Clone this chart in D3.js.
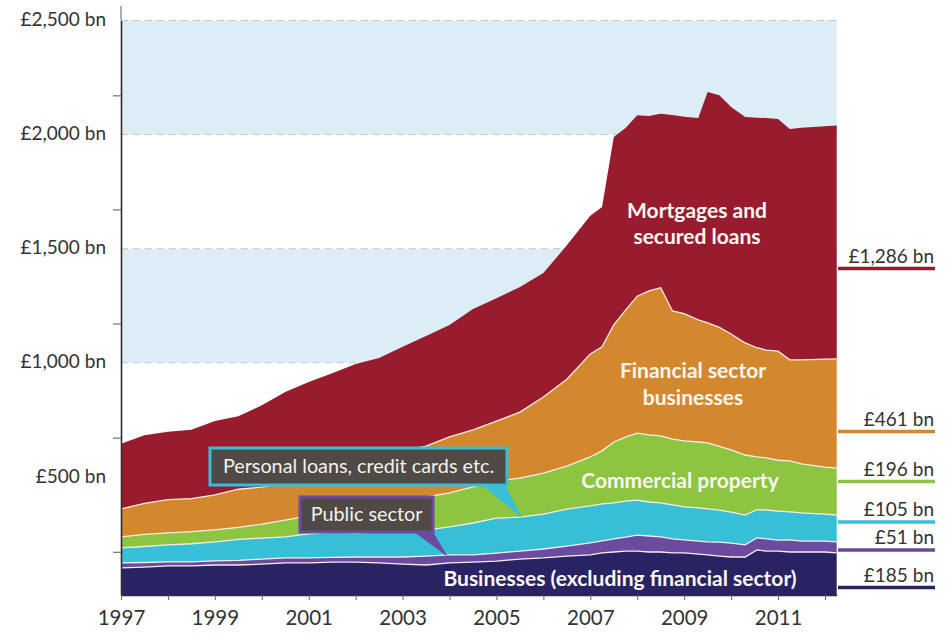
<!DOCTYPE html>
<html>
<head>
<meta charset="utf-8">
<script src="https://cdn.jsdelivr.net/npm/d3@7"></script>
<style>
  body { margin: 0; background: #fff; }
  svg { display: block; font-family: Lato, "Open Sans", sans-serif; }
</style>
</head>
<body>
<svg width="947" height="636"></svg>
<script>
// sample dates (decimal years)
const years = [1997, 1997.5, 1998, 1998.5, 1999, 1999.5, 2000, 2000.5, 2001, 2001.5,
  2002, 2002.5, 2003, 2003.5, 2004, 2004.5, 2005, 2005.5, 2006, 2006.5, 2007,
  2007.25, 2007.5, 2007.75, 2008, 2008.25, 2008.5, 2008.75, 2009,
  2009.3, 2009.5, 2009.75, 2010, 2010.3, 2010.55, 2010.75, 2011,
  2011.25, 2011.5, 2012, 2012.25];

// £bn per sector, bottom to top
const businesses = [101, 105, 110, 110, 114, 114, 118, 123, 123, 127, 127, 123, 118, 114, 123, 127, 131, 140, 145, 153, 158,
  167, 171, 175, 175, 171, 171, 167, 167, 162, 158, 153, 149, 149, 180, 175, 175, 171, 171, 171, 167];
const publicSector = [22, 20, 18, 18, 18, 20, 22, 22, 22, 20, 22, 26, 31, 39, 35, 31, 35, 35, 39, 44, 53,
  53, 57, 61, 70, 70, 66, 61, 57, 57, 57, 61, 61, 53, 53, 53, 48, 53, 48, 48, 48];
const personal = [66, 70, 74, 79, 83, 92, 92, 92, 105, 110, 105, 110, 114, 114, 123, 140, 153, 149, 153, 162, 162,
  162, 158, 158, 153, 149, 149, 149, 145, 145, 145, 140, 136, 131, 123, 127, 127, 123, 123, 118, 118];
const commercial = [48, 53, 53, 53, 53, 53, 61, 74, 79, 92, 114, 127, 136, 145, 149, 158, 162, 171, 180, 188, 215,
  232, 267, 280, 294, 294, 294, 289, 289, 289, 289, 280, 272, 263, 232, 228, 223, 223, 215, 206, 206];
const financial = [123, 136, 145, 145, 153, 167, 162, 167, 175, 184, 184, 197, 215, 223, 245, 250, 263, 289, 333, 381, 451,
  456, 513, 557, 600, 631, 649, 561, 557, 535, 526, 521, 508, 491, 478, 473, 478, 443, 456, 473, 478];
const mortgages = [285, 298, 298, 302, 324, 320, 359, 394, 412, 421, 443, 438, 456, 482, 491, 530, 539, 548, 543, 587, 605,
  613, 824, 798, 793, 767, 762, 859, 863, 885, 1012, 1017, 995, 990, 1008, 1017, 1017, 1012, 1017, 1021, 1023];

const keys = ["businesses", "publicSector", "personal", "commercial", "financial", "mortgages"];
const colors = ["#2a2363", "#6a4b9f", "#36bfd7", "#8cc540", "#d3882d", "#981b2e"];
const endLabels = ["£185 bn", "£51 bn", "£105 bn", "£196 bn", "£461 bn", "£1,286 bn"];

const yLabelValues = [500, 1000, 1500, 2000, 2500];
const yMinorTicks = [172, 672, 1172, 1672, 2172];
const xTickYears = d3.range(1997, 2013);

const table = years.map((yr, i) => ({
  year: yr,
  businesses: businesses[i],
  publicSector: publicSector[i],
  personal: personal[i],
  commercial: commercial[i],
  financial: financial[i],
  mortgages: mortgages[i]
}));

const svg = d3.select("svg");
const yMin = -17.5;
const x = d3.scaleLinear().domain([1997, 2012.25]).range([121, 836.7]);
const y = d3.scaleLinear().domain([yMin, 2500]).range([595, 20.5]);

// background bands
const bands = [[2000, 2500], [1000, 1500]];
svg.append("g").selectAll("rect").data(bands).enter().append("rect")
  .attr("x", x(1997)).attr("width", x(2012.25) - x(1997))
  .attr("y", d => y(d[1])).attr("height", d => y(d[0]) - y(d[1]))
  .attr("fill", "#dcedf6");

svg.append("g").selectAll("line").data(yLabelValues).enter().append("line")
  .attr("x1", x(1997)).attr("x2", x(2012.25))
  .attr("y1", d => y(d)).attr("y2", d => y(d))
  .attr("stroke", "#cfc3c7").attr("stroke-width", 1)
  .attr("stroke-dasharray", "7,5");

const series = d3.stack().keys(keys)(table);

const area = d3.area()
  .x(d => x(d.data.year))
  .y0(d => d[0] === 0 ? y(yMin) : y(d[0]))
  .y1(d => y(d[1]));

svg.append("g").selectAll("path").data(series).enter().append("path")
  .attr("d", area)
  .attr("fill", (d, i) => colors[i]);

const topLine = d3.line().x(d => x(d.data.year)).y(d => y(d[1]));
svg.append("g").selectAll("path").data(series.slice(0, 5)).enter().append("path")
  .attr("d", topLine)
  .attr("fill", "none")
  .attr("stroke", "#f6ece6")
  .attr("stroke-width", 1.3);

// labels inside the areas
const inside = [
  {t: "Mortgages and", x: 697, y: 211},
  {t: "secured loans", x: 697, y: 237},
  {t: "Financial sector", x: 693, y: 371},
  {t: "businesses", x: 693, y: 398},
  {t: "Commercial property", x: 680, y: 481},
  {t: "Businesses (excluding financial sector)", x: 620, y: 579}
];
svg.append("g").selectAll("text").data(inside).enter().append("text")
  .attr("x", d => d.x).attr("y", d => d.y).attr("dy", "0.35em")
  .attr("text-anchor", "middle")
  .attr("fill", "#fbf6f2")
  .attr("font-weight", "bold")
  .attr("font-size", 21)
  .text(d => d.t);

// callout boxes
const callouts = [
  {t: "Personal loans, credit cards etc.", color: colors[2], box: [210, 448, 297, 37],
    ptr: [[482, 485], [505, 485], [522, 518]]},
  {t: "Public sector", color: colors[1], box: [300, 497, 133, 35],
    ptr: [[414, 532], [433, 532], [448, 557]]}
];
const cg = svg.append("g").selectAll("g").data(callouts).enter().append("g");
cg.append("path")
  .attr("d", d => "M" + d.ptr.join("L") + "Z")
  .attr("fill", d => d.color);
cg.append("rect")
  .attr("x", d => d.box[0]).attr("y", d => d.box[1])
  .attr("width", d => d.box[2]).attr("height", d => d.box[3])
  .attr("fill", "#4f4a45")
  .attr("stroke", d => d.color)
  .attr("stroke-width", 3);
cg.append("text")
  .attr("x", d => d.box[0] + d.box[2] / 2)
  .attr("y", d => d.box[1] + d.box[3] / 2)
  .attr("dy", "0.35em")
  .attr("text-anchor", "middle")
  .attr("fill", "#f4f2ee")
  .attr("font-size", 19.8)
  .text(d => d.t);

// axes
const xAxis = svg.append("g")
  .attr("transform", "translate(0," + y(yMin) + ")")
  .call(d3.axisBottom(x).tickValues(xTickYears)
    .tickFormat(d => (d % 2 === 1 ? d : ""))
    .tickSize(5).tickSizeOuter(0).tickPadding(10));
xAxis.select(".domain").attr("stroke", "#2e2e2e").attr("stroke-width", 1.6);
xAxis.selectAll(".tick line").attr("stroke", "#666");
xAxis.selectAll(".tick text")
  .attr("font-family", "Lato, sans-serif")
  .attr("font-size", 20.5)
  .attr("fill", "#333");

const yAxis = svg.append("g")
  .attr("transform", "translate(" + x(1997) + ",0)")
  .call(d3.axisLeft(y).tickValues(yMinorTicks).tickFormat("")
    .tickSize(8).tickSizeOuter(0));
yAxis.select(".domain").attr("stroke", "#2e2e2e").attr("stroke-width", 1.6);
yAxis.selectAll(".tick line").attr("stroke", "#555");
yAxis.append("line")
  .attr("x1", 0).attr("x2", 0).attr("y1", 6).attr("y2", y(2500))
  .attr("stroke", "#999").attr("stroke-width", 1.6);

svg.append("g").selectAll("text").data(yLabelValues).enter().append("text")
  .attr("x", 106).attr("y", d => y(d) - 1).attr("dy", "0.35em")
  .attr("text-anchor", "end")
  .attr("font-size", 19)
  .attr("fill", "#333")
  .text(d => "£" + d3.format(",")(d) + " bn");

// end-of-series labels at the right
const endY = [575, 537.5, 509.5, 469, 419, 256];
const endG = svg.append("g").selectAll("g").data(endLabels).enter().append("g");
endG.append("text")
  .attr("x", 934).attr("y", (d, i) => endY[i]).attr("dy", "0.35em")
  .attr("text-anchor", "end")
  .attr("font-size", 19)
  .attr("fill", "#333")
  .text(d => d);
endG.append("line")
  .attr("x1", 838).attr("x2", 935)
  .attr("y1", (d, i) => endY[i] + 12.5).attr("y2", (d, i) => endY[i] + 12.5)
  .attr("stroke", (d, i) => colors[i])
  .attr("stroke-width", 3.5);
</script>
</body>
</html>
